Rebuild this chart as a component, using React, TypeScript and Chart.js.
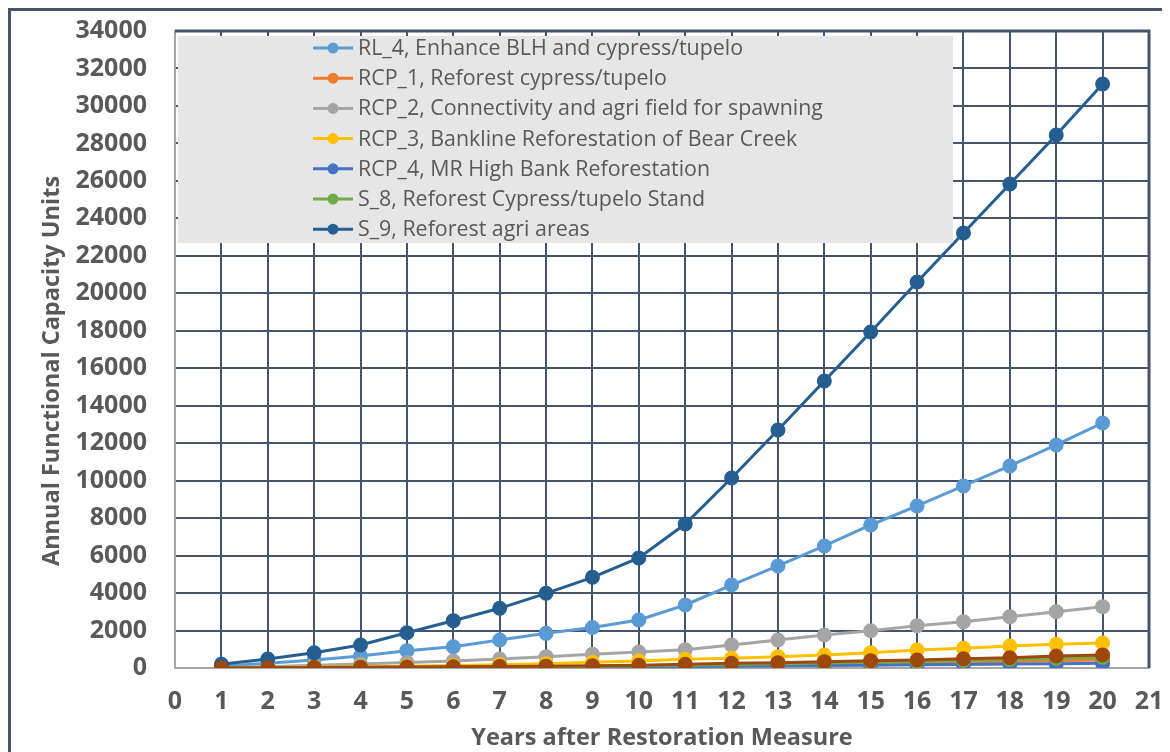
import { useEffect, useRef } from "react";
import { Chart, registerables } from "chart.js";

Chart.register(...registerables);

const years = [1, 2, 3, 4, 5, 6, 7, 8, 9, 10, 11, 12, 13, 14, 15, 16, 17, 18, 19, 20];

const rl4 = [100, 250, 427, 640, 925, 1138, 1495, 1850, 2160, 2562, 3363, 4430, 5445, 6512, 7633, 8648, 9715, 10783, 11904, 13078];
const rcp1 = [3, 8, 15, 25, 35, 45, 55, 70, 85, 100, 125, 150, 180, 210, 240, 270, 310, 350, 390, 430];
const rcp2 = [30, 71, 142, 213, 290, 373, 480, 605, 730, 854, 980, 1228, 1495, 1762, 1985, 2260, 2473, 2740, 3007, 3274];
const rcp3 = [15, 30, 50, 70, 100, 130, 178, 231, 302, 373, 462, 516, 605, 694, 818, 961, 1050, 1174, 1264, 1335];
const rcp4 = [2, 5, 10, 15, 20, 30, 40, 50, 60, 70, 85, 100, 115, 130, 150, 170, 190, 210, 230, 250];
const s8 = [5, 10, 20, 30, 40, 55, 70, 85, 100, 120, 150, 190, 230, 270, 310, 350, 400, 450, 520, 580];
const s9 = [200, 480, 817, 1228, 1885, 2526, 3186, 3987, 4841, 5872, 7687, 10142, 12705, 15320, 17936, 20605, 23220, 25836, 28452, 31174];
const extra = [5, 15, 25, 40, 55, 70, 85, 100, 120, 150, 200, 250, 285, 338, 392, 430, 490, 550, 640, 700];

const seriesLabels = [
  "RL_4, Enhance BLH and cypress/tupelo",
  "RCP_1, Reforest cypress/tupelo",
  "RCP_2, Connectivity and agri field for spawning",
  "RCP_3, Bankline Reforestation of Bear Creek",
  "RCP_4, MR High Bank Reforestation",
  "S_8, Reforest Cypress/tupelo Stand",
  "S_9, Reforest agri areas",
  "Series 8",
];
const seriesValues = [rl4, rcp1, rcp2, rcp3, rcp4, s8, s9, extra];
const seriesColors = ["#5B9BD5", "#ED7D31", "#A5A5A5", "#FFC000", "#4472C4", "#70AD47", "#255E91", "#9E480E"];
const legendCount = 7;

const xTitle = "Years after Restoration Measure";
const yTitle = "Annual Functional Capacity Units";
const xMin = 0;
const xMax = 21;
const yMin = 0;
const yMax = 34000;
const yStep = 2000;

const FONT = "'Open Sans', 'DejaVu Sans', sans-serif";
const TEXT = "#595959";
const GRID = "#44546A";

const W = 1162;
const H = 744;
const PLOT_LEFT = 167;
const PLOT_RIGHT = 1141;
const PLOT_TOP = 23;
const PLOT_BOTTOM = 660;

const decorPlugin = {
  id: "decor",
  afterDraw(chart: any) {
    const ctx = chart.ctx;
    const area = chart.chartArea;
    ctx.save();
    // outer frame
    ctx.fillStyle = GRID;
    ctx.fillRect(0, 0, W, 3);
    ctx.fillRect(0, 0, 3, H);
    // plot border top/right
    ctx.strokeStyle = GRID;
    ctx.lineWidth = 3;
    ctx.beginPath();
    ctx.moveTo(area.left, area.top);
    ctx.lineTo(area.right, area.top);
    ctx.lineTo(area.right, area.bottom);
    ctx.stroke();

    // legend
    const lx0 = 170, ly0 = 28, lx1 = 945, ly1 = 235;
    ctx.fillStyle = "#E6E6E6";
    ctx.fillRect(lx0, ly0, lx1 - lx0, ly1 - ly0);
    ctx.font = `21.4px ${FONT}`;
    ctx.textBaseline = "middle";
    ctx.textAlign = "left";
    for (let i = 0; i < legendCount; i++) {
      const cy = 40 + i * 30.2;
      ctx.strokeStyle = seriesColors[i];
      ctx.lineWidth = 3;
      ctx.beginPath();
      ctx.moveTo(305, cy);
      ctx.lineTo(345, cy);
      ctx.stroke();
      ctx.fillStyle = seriesColors[i];
      ctx.beginPath();
      ctx.arc(325, cy, 5.5, 0, Math.PI * 2);
      ctx.fill();
      ctx.fillStyle = TEXT;
      ctx.fillText(seriesLabels[i], 350, cy + 1);
    }

    // axis titles
    ctx.fillStyle = TEXT;
    ctx.font = `bold 23.5px ${FONT}`;
    ctx.textAlign = "center";
    ctx.textBaseline = "middle";
    ctx.fillText(xTitle, (area.left + area.right) / 2, 730);
    ctx.translate(44, 363);
    ctx.rotate(-Math.PI / 2);
    ctx.fillText(yTitle, 0, 0);
    ctx.restore();
  },
};

const zeroPad = (scale: any) => {
  scale.paddingTop = 0;
  scale.paddingBottom = 0;
  scale.paddingLeft = 0;
  scale.paddingRight = 0;
};

export default function App() {
  const ref = useRef<HTMLCanvasElement>(null);
  useEffect(() => {
    if (!ref.current) return;
    const datasets = seriesValues.map((vals, i) => ({
      label: seriesLabels[i],
      data: years.map((yr, j) => ({ x: yr, y: vals[j] })),
      borderColor: seriesColors[i],
      backgroundColor: seriesColors[i],
      pointBackgroundColor: seriesColors[i],
      pointBorderColor: seriesColors[i],
      pointRadius: 6,
      pointHoverRadius: 6,
      borderWidth: 3,
      tension: 0,
      order: seriesValues.length - i,
    }));
    const chart = new Chart(ref.current, {
      type: "line",
      data: { datasets },
      plugins: [decorPlugin],
      options: {
        responsive: false,
        animation: false,
        devicePixelRatio: 1,
        layout: { padding: { top: PLOT_TOP, right: W - PLOT_RIGHT, left: 0, bottom: 0 } },
        plugins: { legend: { display: false }, tooltip: { enabled: false }, title: { display: false } },
        scales: {
          x: {
            type: "linear",
            min: xMin,
            max: xMax,
            afterFit(scale: any) {
              scale.height = H - PLOT_BOTTOM;
              zeroPad(scale);
            },
            ticks: {
              stepSize: 1,
              autoSkip: false,
              maxRotation: 0,
              padding: 19,
              color: TEXT,
              font: { family: FONT, size: 25, weight: "bold" },
            },
            grid: { color: GRID, lineWidth: 2, drawTicks: false },
            border: { color: "#A6A6A6", width: 2 },
          },
          y: {
            type: "linear",
            min: yMin,
            max: yMax,
            afterFit(scale: any) {
              scale.width = PLOT_LEFT;
              zeroPad(scale);
            },
            ticks: {
              stepSize: yStep,
              autoSkip: false,
              padding: 28,
              color: TEXT,
              font: { family: FONT, size: 25, weight: "bold" },
              callback: (v: any) => String(v),
            },
            grid: { color: GRID, lineWidth: 2, drawTicks: false },
            border: { color: "#A6A6A6", width: 2 },
          },
        },
      },
    });
    return () => chart.destroy();
  }, []);
  return <canvas ref={ref} width={W} height={H} style={{ display: "block", width: W, height: H }} />;
}
